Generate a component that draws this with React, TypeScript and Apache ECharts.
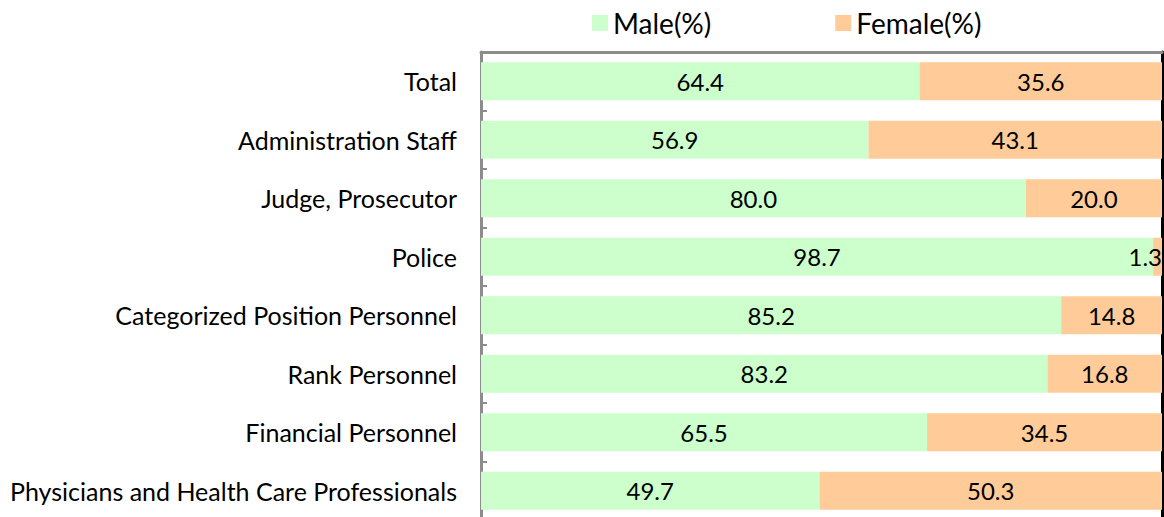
import React, { useEffect, useRef } from "react";
import * as echarts from "echarts";

const categories = [
  "Total",
  "Administration Staff",
  "Judge, Prosecutor",
  "Police",
  "Categorized Position Personnel",
  "Rank Personnel",
  "Financial Personnel",
  "Physicians and Health Care Professionals",
];
const maleValues = [64.4, 56.9, 80.0, 98.7, 85.2, 83.2, 65.5, 49.7];
const femaleValues = [35.6, 43.1, 20.0, 1.3, 14.8, 16.8, 34.5, 50.3];

const FONT = "Lato, 'Noto Sans', sans-serif";

export default function App() {
  const ref = useRef<HTMLDivElement>(null);
  useEffect(() => {
    if (!ref.current) return;
    const chart = echarts.init(ref.current, undefined, { renderer: "svg" });
    const label = {
      show: true,
      position: "inside",
      color: "#000",
      fontSize: 24,
      fontFamily: FONT,
      formatter: (p: any) => Number(p.value).toFixed(1),
    };
    const femaleData = femaleValues.map((v) =>
      v < 5
        ? { value: v, label: { position: "insideRight", distance: 0 } }
        : v
    );
    chart.setOption({
      animation: false,
      backgroundColor: "#fff",
      textStyle: { fontFamily: FONT },
      legend: {
        top: 4,
        left: 587,
        itemWidth: 16,
        itemHeight: 16,
        itemGap: 124,
        icon: "rect",
        textStyle: { fontSize: 28, color: "#000", fontFamily: FONT },
        data: ["Male(%)", "Female(%)"],
      },
      grid: { left: 481, right: 2, top: 52, bottom: 0 },
      xAxis: {
        type: "value",
        min: 0,
        max: 100,
        position: "top",
        axisLine: { show: true, lineStyle: { color: "#8c8c8c", width: 3 } },
        axisTick: { show: false },
        axisLabel: { show: false },
        splitLine: { show: false },
      },
      yAxis: [
        {
          type: "category",
          data: categories,
          inverse: true,
          axisLine: { show: true, lineStyle: { color: "#8c8c8c", width: 3 } },
          axisTick: { show: true, inside: true, length: 6, lineStyle: { color: "#8c8c8c", width: 2 } },
          axisLabel: { color: "#000", fontSize: 25, fontFamily: FONT, margin: 24 },
        },
        {
          type: "category",
          data: categories,
          inverse: true,
          position: "right",
          axisLine: { show: true, lineStyle: { color: "#000", width: 3 } },
          axisTick: { show: false },
          axisLabel: { show: false },
        },
      ],
      series: [
        {
          name: "Male(%)",
          type: "bar",
          stack: "total",
          data: maleValues,
          barWidth: 38,
          itemStyle: { color: "#CCFFCC" },
          label,
        },
        {
          name: "Female(%)",
          type: "bar",
          stack: "total",
          data: femaleData,
          barWidth: 38,
          itemStyle: { color: "#FFCC99" },
          label,
        },
      ],
    });
    return () => chart.dispose();
  }, []);
  return (
    <div
      ref={ref}
      style={{ position: "absolute", left: 0, top: 0, width: 1164, height: 520 }}
    />
  );
}
